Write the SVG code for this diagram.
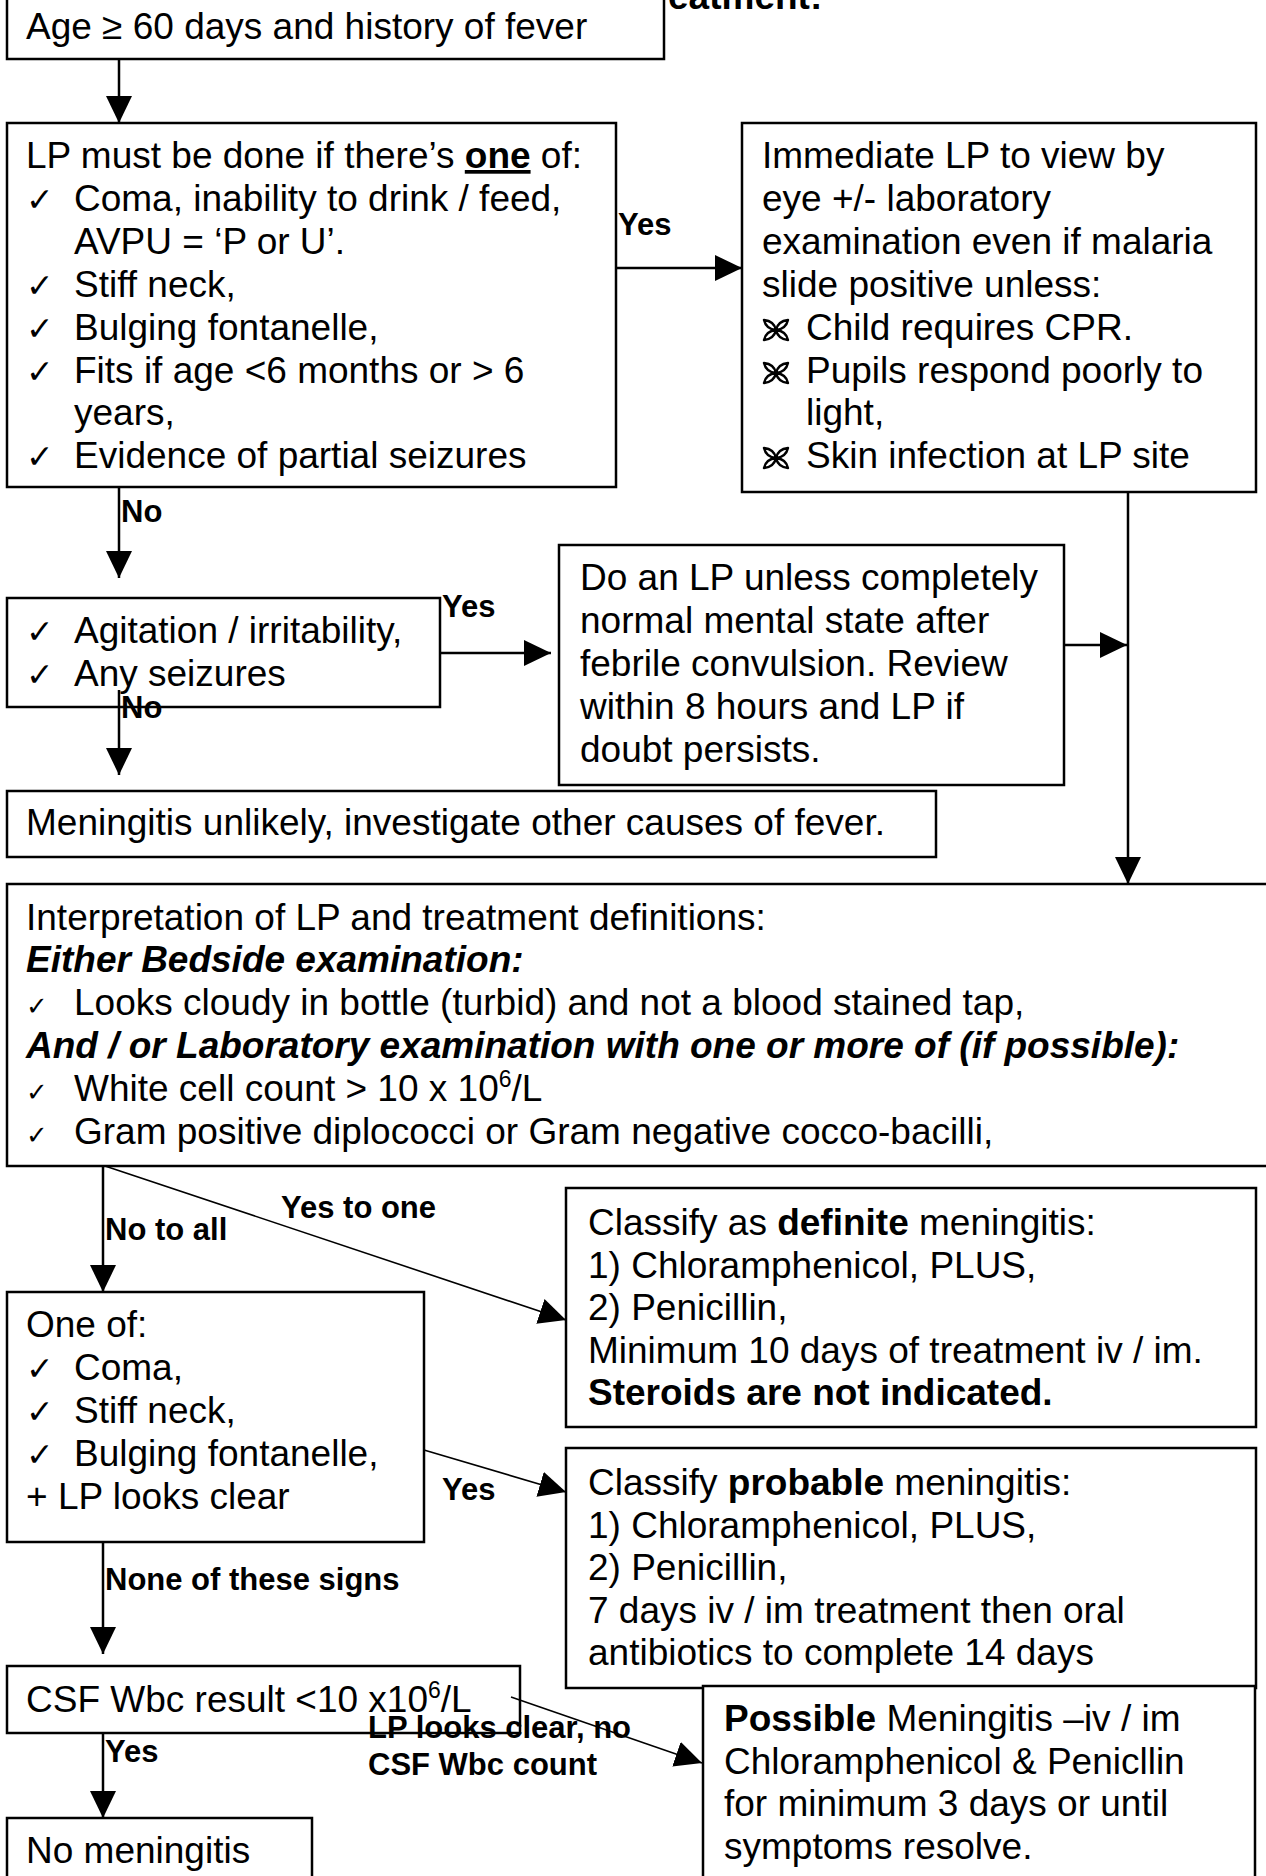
<svg xmlns="http://www.w3.org/2000/svg" width="1266" height="1876" viewBox="0 0 1266 1876">
<style>
text{font-family:"Liberation Sans",Arial,"DejaVu Sans",sans-serif;font-size:37px;fill:#000}
.b{font-weight:bold}
.bi{font-weight:bold;font-style:italic}
.lbl{font-weight:bold;font-size:31px}
.ck{font-family:"DejaVu Sans",sans-serif;font-size:33px}
.cks{font-family:"DejaVu Sans",sans-serif;font-size:26px}
.box{fill:#fff;stroke:#000;stroke-width:2.5}
.ln{fill:none;stroke:#000;stroke-width:2.5}
.dl{fill:none;stroke:#000;stroke-width:1.6}
</style>
<defs>
<marker id="ah" markerUnits="userSpaceOnUse" markerWidth="27" markerHeight="26" refX="27" refY="13" orient="auto"><path d="M0,0 L27,13 L0,26 Z" fill="#000"/></marker>
<g id="wd"><path d="M0,0 Q10,-1 12,-10 Q2,-9 0,0Z M0,0 Q-10,-1 -12,-10 Q-2,-9 0,0Z M0,0 Q10,1 12,10 Q2,9 0,0Z M0,0 Q-10,1 -12,10 Q-2,9 0,0Z" fill="none" stroke="#000" stroke-width="2.4" stroke-linejoin="round"/></g>
</defs>
<rect width="1266" height="1876" fill="#fff"/>
<text class="b" x="668" y="9">eatment:</text>

<g id="n_age">
<rect class="box" x="7" y="-6" width="657" height="65"/>
<text x="26" y="39">Age ≥ 60 days and history of fever</text>
</g>

<g id="n_lp_must">
<rect class="box" x="7" y="123" width="609" height="364"/>
<text x="26" y="168">LP must be done if there’s <tspan class="b" text-decoration="underline">one</tspan> of:</text>
<text class="ck" x="26" y="211">✓</text><text x="74" y="211">Coma, inability to drink / feed,</text>
<text x="74" y="254">AVPU = ‘P or U’.</text>
<text class="ck" x="26" y="297">✓</text><text x="74" y="297">Stiff neck,</text>
<text class="ck" x="26" y="340">✓</text><text x="74" y="340">Bulging fontanelle,</text>
<text class="ck" x="26" y="383">✓</text><text x="74" y="383">Fits if age &lt;6 months or &gt; 6</text>
<text x="74" y="425">years,</text>
<text class="ck" x="26" y="468">✓</text><text x="74" y="468">Evidence of partial seizures</text>
</g>

<g id="n_immediate">
<rect class="box" x="742" y="123" width="514" height="369"/>
<text x="762" y="168">Immediate LP to view by</text>
<text x="762" y="211">eye +/- laboratory</text>
<text x="762" y="254">examination even if malaria</text>
<text x="762" y="297">slide positive unless:</text>
<use href="#wd" x="776" y="330"/><text x="806" y="340">Child requires CPR.</text>
<use href="#wd" x="776" y="373"/><text x="806" y="383">Pupils respond poorly to</text>
<text x="806" y="425">light,</text>
<use href="#wd" x="776" y="458"/><text x="806" y="468">Skin infection at LP site</text>
</g>

<g id="n_agitation">
<rect class="box" x="7" y="598" width="433" height="109"/>
<text class="ck" x="26" y="643">✓</text><text x="74" y="643">Agitation / irritability,</text>
<text class="ck" x="26" y="686">✓</text><text x="74" y="686">Any seizures</text>
</g>

<g id="n_do_lp">
<rect class="box" x="559" y="545" width="505" height="240"/>
<text x="580" y="590">Do an LP unless completely</text>
<text x="580" y="633">normal mental state after</text>
<text x="580" y="676">febrile convulsion. Review</text>
<text x="580" y="719">within 8 hours and LP if</text>
<text x="580" y="762">doubt persists.</text>
</g>

<g id="n_unlikely">
<rect class="box" x="7" y="791" width="929" height="66"/>
<text x="26" y="835">Meningitis unlikely, investigate other causes of fever.</text>
</g>

<g id="n_interpretation">
<rect class="box" x="7" y="884" width="1275" height="282"/>
<text x="26" y="930">Interpretation of LP and treatment definitions:</text>
<text class="bi" x="26" y="972">Either Bedside examination:</text>
<text class="cks" x="26" y="1015">✓</text><text x="74" y="1015">Looks cloudy in bottle (turbid) and not a blood stained tap,</text>
<text class="bi" x="26" y="1058">And / or Laboratory examination with one or more of (if possible):</text>
<text class="cks" x="26" y="1101">✓</text><text x="74" y="1101">White cell count &gt; 10 x 10<tspan font-size="23" dy="-14">6</tspan><tspan dy="14">/L</tspan></text>
<text class="cks" x="26" y="1144">✓</text><text x="74" y="1144">Gram positive diplococci or Gram negative cocco-bacilli,</text>
</g>

<g id="n_definite">
<rect class="box" x="566" y="1188" width="690" height="239"/>
<text x="588" y="1235">Classify as <tspan class="b">definite</tspan> meningitis:</text>
<text x="588" y="1278">1) Chloramphenicol, PLUS,</text>
<text x="588" y="1320">2) Penicillin,</text>
<text x="588" y="1363">Minimum 10 days of treatment iv / im.</text>
<text class="b" x="588" y="1405">Steroids are not indicated.</text>
</g>

<g id="n_one_of">
<rect class="box" x="7" y="1292" width="417" height="250"/>
<text x="26" y="1337">One of:</text>
<text class="ck" x="26" y="1380">✓</text><text x="74" y="1380">Coma,</text>
<text class="ck" x="26" y="1423">✓</text><text x="74" y="1423">Stiff neck,</text>
<text class="ck" x="26" y="1466">✓</text><text x="74" y="1466">Bulging fontanelle,</text>
<text x="26" y="1509">+ LP looks clear</text>
</g>

<g id="n_probable">
<rect class="box" x="566" y="1448" width="690" height="240"/>
<text x="588" y="1495">Classify <tspan class="b">probable</tspan> meningitis:</text>
<text x="588" y="1538">1) Chloramphenicol, PLUS,</text>
<text x="588" y="1580">2) Penicillin,</text>
<text x="588" y="1623">7 days iv / im treatment then oral</text>
<text x="588" y="1665">antibiotics to complete 14 days</text>
</g>

<g id="n_possible">
<rect class="box" x="703" y="1686" width="552" height="220"/>
<text x="724" y="1731"><tspan class="b">Possible</tspan> Meningitis –iv / im</text>
<text x="724" y="1774">Chloramphenicol &amp; Penicllin</text>
<text x="724" y="1816">for minimum 3 days or until</text>
<text x="724" y="1859">symptoms resolve.</text>
</g>

<g id="n_csf">
<rect class="box" x="7" y="1666" width="513" height="67"/>
<text x="26" y="1712">CSF Wbc result &lt;10 x10<tspan font-size="23" dy="-14">6</tspan><tspan dy="14">/L</tspan></text>
</g>

<g id="n_no_meningitis">
<rect class="box" x="7" y="1818" width="305" height="80"/>
<text x="26" y="1863">No meningitis</text>
</g>

<g id="connectors">
<path class="ln" d="M119,59 V123" marker-end="url(#ah)"/>
<path class="ln" d="M616,268 H742" marker-end="url(#ah)"/>
<path class="ln" d="M119,487 V578" marker-end="url(#ah)"/>
<path class="ln" d="M440,653 H551" marker-end="url(#ah)"/>
<path class="ln" d="M119,690 V775" marker-end="url(#ah)"/>
<path class="ln" d="M1064,645 H1127" marker-end="url(#ah)"/>
<path class="ln" d="M1128,492 V884" marker-end="url(#ah)"/>
<path class="ln" d="M103,1166 V1292" marker-end="url(#ah)"/>
<path class="dl" d="M105,1166 L566,1320" marker-end="url(#ah)"/>
<path class="dl" d="M424,1450 L566,1492" marker-end="url(#ah)"/>
<path class="ln" d="M103,1542 V1654" marker-end="url(#ah)"/>
<path class="ln" d="M103,1733 V1818" marker-end="url(#ah)"/>
<path class="dl" d="M511,1697 L702,1763" marker-end="url(#ah)"/>
<text class="lbl" x="618" y="235">Yes</text>
<text class="lbl" x="121" y="522">No</text>
<text class="lbl" x="442" y="617">Yes</text>
<text class="lbl" x="121" y="718">No</text>
<text class="lbl" x="281" y="1218">Yes to one</text>
<text class="lbl" x="105" y="1240">No to all</text>
<text class="lbl" x="442" y="1500">Yes</text>
<text class="lbl" x="105" y="1590">None of these signs</text>
<text class="lbl" x="105" y="1762">Yes</text>
<text class="lbl" x="368" y="1738">LP looks clear, no</text>
<text class="lbl" x="368" y="1775">CSF Wbc count</text>
</g>
</svg>
